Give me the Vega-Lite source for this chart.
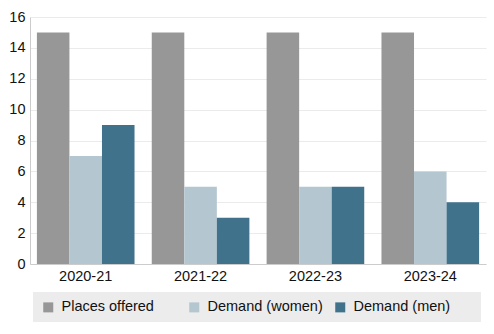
{
  "$schema": "https://vega.github.io/schema/vega-lite/v6.json",
  "width": 456,
  "height": 247,
  "autosize": {"type": "none"},
  "padding": {"left": 30, "top": 17, "right": 8, "bottom": 70},
  "background": "white",
  "config": {
    "font": "Liberation Sans",
    "view": {"stroke": null}
  },
  "data": {
    "values": [
      {"year": "2020-21", "series": "Places offered", "value": 15},
      {"year": "2020-21", "series": "Demand (women)", "value": 7},
      {"year": "2020-21", "series": "Demand (men)", "value": 9},
      {"year": "2021-22", "series": "Places offered", "value": 15},
      {"year": "2021-22", "series": "Demand (women)", "value": 5},
      {"year": "2021-22", "series": "Demand (men)", "value": 3},
      {"year": "2022-23", "series": "Places offered", "value": 15},
      {"year": "2022-23", "series": "Demand (women)", "value": 5},
      {"year": "2022-23", "series": "Demand (men)", "value": 5},
      {"year": "2023-24", "series": "Places offered", "value": 15},
      {"year": "2023-24", "series": "Demand (women)", "value": 6},
      {"year": "2023-24", "series": "Demand (men)", "value": 4}
    ]
  },
  "mark": {"type": "bar"},
  "encoding": {
    "x": {
      "field": "year",
      "type": "nominal",
      "title": null,
      "scale": {"paddingInner": 0.15, "paddingOuter": 0.06},
      "axis": {
        "labelAngle": 0,
        "labelFontSize": 14.5,
        "labelColor": "#111",
        "ticks": false,
        "labelPadding": 5,
        "domainColor": "#cccccc",
        "grid": false
      }
    },
    "xOffset": {
      "field": "series",
      "type": "nominal",
      "sort": ["Places offered", "Demand (women)", "Demand (men)"],
      "scale": {"paddingInner": 0, "paddingOuter": 0}
    },
    "y": {
      "field": "value",
      "type": "quantitative",
      "title": null,
      "scale": {"domain": [0, 16], "nice": false},
      "axis": {
        "values": [0, 2, 4, 6, 8, 10, 12, 14, 16],
        "labelFontSize": 14.5,
        "labelColor": "#111",
        "ticks": false,
        "labelPadding": 5,
        "domainColor": "#cccccc",
        "gridColor": "#ebebeb"
      }
    },
    "color": {
      "field": "series",
      "type": "nominal",
      "sort": ["Places offered", "Demand (women)", "Demand (men)"],
      "scale": {
        "domain": ["Places offered", "Demand (women)", "Demand (men)"],
        "range": ["#979797", "#b4c6d0", "#41728b"]
      },
      "legend": {
        "title": "\u00a0",
        "titleOrient": "right",
        "titlePadding": 23,
        "titleFontSize": 8,
        "orient": "none",
        "legendX": 3,
        "legendY": 275,
        "direction": "horizontal",
        "columns": 3,
        "gridAlign": "all",
        "columnPadding": 10,
        "fillColor": "#ececec",
        "padding": 8,
        "symbolType": "square",
        "symbolSize": 100,
        "symbolStrokeWidth": 0,
        "symbolOpacity": 1,
        "labelFontSize": 14.5,
        "labelColor": "#111",
        "labelOffset": 6,
        "labelLimit": 200
      }
    }
  }
}
